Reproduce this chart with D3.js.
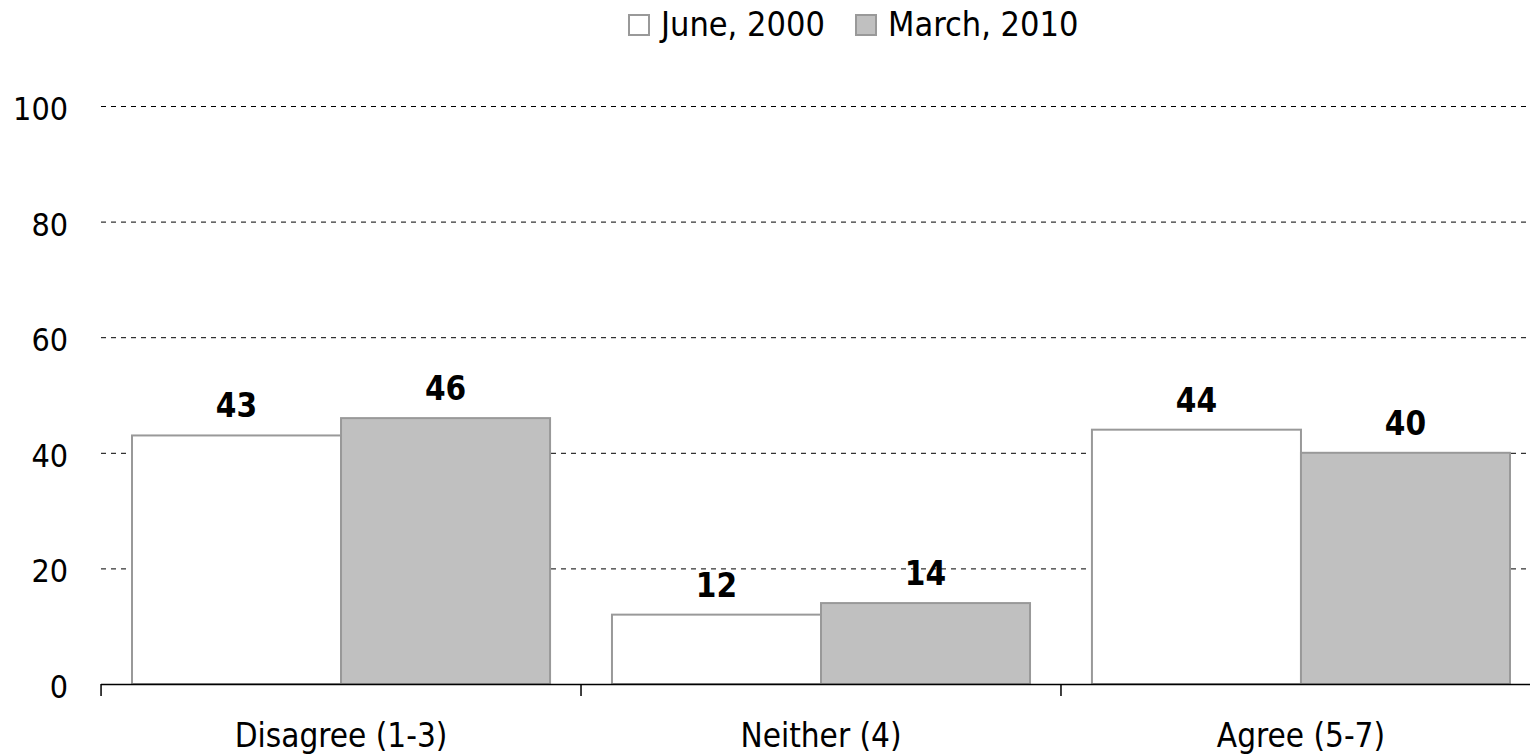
<!DOCTYPE html>
<html>
<head>
<meta charset="utf-8">
<script src="https://cdn.jsdelivr.net/npm/d3@7"></script>
<style>
  body { margin: 0; background: #fff; }
  text { font-family: "DejaVu Sans Condensed", "DejaVu Sans", sans-serif; fill: #000; }
</style>
</head>
<body>
<svg id="chart" width="1530" height="755"></svg>
<script>
// data
var categories = ["Disagree (1-3)", "Neither (4)", "Agree (5-7)"];
var seriesNames = ["June, 2000", "March, 2010"];
var june2000 = [43, 12, 44];
var march2010 = [46, 14, 40];
var yTicks = [0, 20, 40, 60, 80, 100];

var svg = d3.select("#chart");
var fills = ["#ffffff", "#c0c0c0"];
var strokeCol = "#999999";

var y = d3.scaleLinear().domain([0, 100]).range([684, 106]);
var x = d3.scaleBand().domain(categories).range([101, 1541])
    .paddingInner(0.129).paddingOuter(0.0646);
var xs = d3.scaleBand().domain(seriesNames).range([0, x.bandwidth()]);

// gridlines (dashed)
svg.append("g").selectAll("line").data(yTicks.filter(function (d) { return d > 0; })).enter()
    .append("line")
    .attr("x1", 101).attr("x2", 1530)
    .attr("y1", function (d) { return y(d) + 0.5; })
    .attr("y2", function (d) { return y(d) + 0.5; })
    .attr("stroke", "#000")
    .attr("stroke-width", 1)
    .attr("stroke-dasharray", "5,5");

// y labels
svg.append("g").selectAll("text").data(yTicks).enter()
    .append("text")
    .attr("x", 68)
    .attr("y", function (d) { return y(d) + 14; })
    .attr("text-anchor", "end")
    .attr("font-size", 32)
    .text(function (d) { return d; });

// bars + value labels
var allSeries = [june2000, march2010];
allSeries.forEach(function (vals, s) {
    svg.append("g").selectAll("rect").data(vals).enter()
        .append("rect")
        .attr("x", function (d, i) { return x(categories[i]) + xs(seriesNames[s]); })
        .attr("y", function (d) { return y(d); })
        .attr("width", xs.bandwidth())
        .attr("height", function (d) { return y(0) - y(d); })
        .attr("fill", fills[s])
        .attr("stroke", strokeCol)
        .attr("stroke-width", 2);

    svg.append("g").selectAll("text").data(vals).enter()
        .append("text")
        .attr("x", function (d, i) { return x(categories[i]) + xs(seriesNames[s]) + xs.bandwidth() / 2; })
        .attr("y", function (d) { return y(d) - 18; })
        .attr("text-anchor", "middle")
        .attr("font-size", 33)
        .attr("font-weight", "bold")
        .text(function (d) { return d; });
});

// x axis
var xAxis = svg.append("g");
xAxis.append("line")
    .attr("x1", 101).attr("x2", 1530)
    .attr("y1", 684.5).attr("y2", 684.5)
    .attr("stroke", "#000").attr("stroke-width", 1.5);
xAxis.selectAll("line.tick").data(categories).enter()
    .append("line")
    .attr("class", "tick")
    .attr("x1", function (d) { return x(d) - x.step() * x.paddingInner() / 2; })
    .attr("x2", function (d) { return x(d) - x.step() * x.paddingInner() / 2; })
    .attr("y1", 684).attr("y2", 696)
    .attr("stroke", "#000").attr("stroke-width", 1.5);
xAxis.selectAll("text").data(categories).enter()
    .append("text")
    .attr("x", function (d) { return x(d) + x.bandwidth() / 2; })
    .attr("y", 747)
    .attr("text-anchor", "middle")
    .attr("font-size", 33)
    .text(function (d) { return d; });

// legend
var legend = svg.append("g");
var legX = [629, 856];
seriesNames.forEach(function (name, s) {
    legend.append("rect")
        .attr("x", legX[s]).attr("y", 15)
        .attr("width", 20).attr("height", 20)
        .attr("fill", fills[s])
        .attr("stroke", strokeCol).attr("stroke-width", 2);
    legend.append("text")
        .attr("x", legX[s] + 32).attr("y", 36)
        .attr("font-size", 34)
        .text(name);
});
</script>
</body>
</html>
